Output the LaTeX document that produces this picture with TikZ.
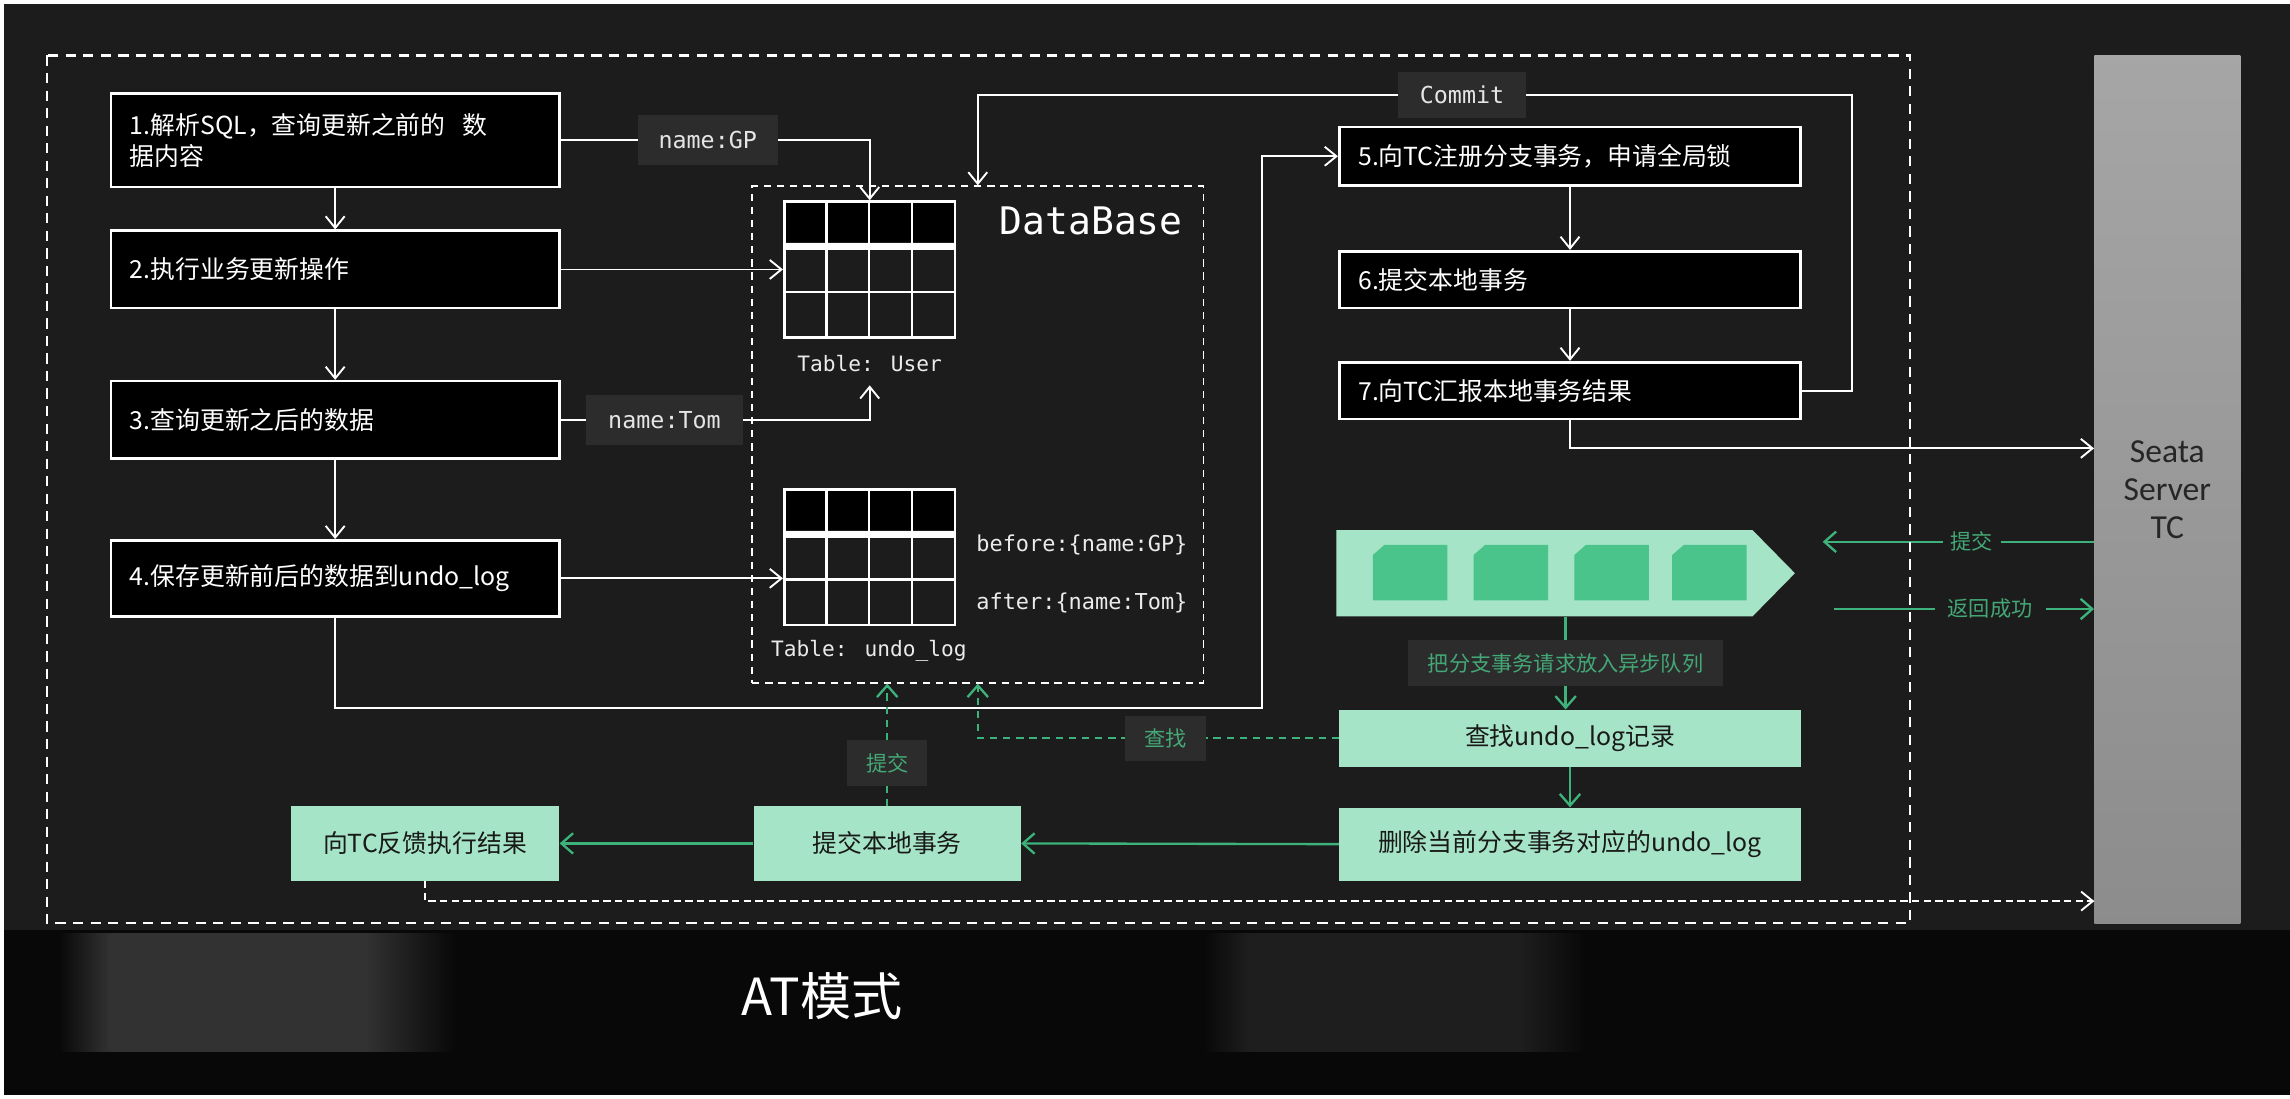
\documentclass[tikz,border=0pt]{standalone}
\usepackage{fontspec}
\setmainfont{Noto Sans CJK SC}
\newfontfamily\monofont{DejaVu Sans Mono}
\newfontfamily\seatafont{Carlito}
\usetikzlibrary{arrows.meta}
\definecolor{bgc}{HTML}{1C1C1C}
\definecolor{mint}{HTML}{A6E4C7}
\definecolor{mintdark}{HTML}{4BC48B}
\definecolor{gline}{HTML}{3DB27A}
\definecolor{gtext}{HTML}{44A876}
\definecolor{lblbg}{HTML}{2C2C2C}
\definecolor{tilegray}{HTML}{323232}
\definecolor{tilefaint}{HTML}{1E1E1E}
\definecolor{bandc}{HTML}{080808}
\begin{document}
\begin{tikzpicture}[x=1pt,y=-1pt,
    stepbox/.style={draw=white,line width=1.8pt,fill=black,text=white,font=\fontsize{17}{21}\selectfont,align=left,inner xsep=13pt,inner ysep=0pt},
    mintbox/.style={fill=mint,text=black!90,font=\fontsize{17}{21}\selectfont,inner sep=0pt},
    lbl/.style={fill=lblbg,text=white!90!black,font=\monofont\fontsize{16}{18}\selectfont,inner sep=0pt,minimum height=34pt},
    tlbl/.style={text=white!92!black,font=\monofont\fontsize{14.5}{17}\selectfont},
    glbl/.style={fill=lblbg,text=gtext,font=\fontsize{14.5}{17}\selectfont,inner sep=0pt,minimum width=55pt,minimum height=31pt},
    arr/.style={draw=white,line width=1.3pt,-{Straight Barb[length=8pt,width=13pt]}},
    garr/.style={draw=gline,line width=1.6pt,-{Straight Barb[length=8pt,width=14pt]}},
    gdash/.style={garr,dash pattern=on 5pt off 4pt},
    cell/.style={draw=white,line width=1.8pt}]
    \useasboundingbox (0,0) rectangle (1568,752);
    % background
    \fill[white] (0,0) rectangle (1568,752);
    \fill[bgc] (2.5,2.5) rectangle (1568,750);
    \fill[bandc] (2.5,637) rectangle (1568,750);
    \foreach \xa/\xb/\xc/\xd/\tc in {40/75/250/312/tilegray,824/855/1040/1086/tilefaint}{
        \shade[left color=bandc,right color=\tc] (\xa,639) rectangle (\xb,720);
        \fill[\tc] (\xb,639) rectangle (\xc,720);
        \shade[left color=\tc,right color=bandc] (\xc,639) rectangle (\xd,720);
    }
    \node[text=white,font=\fontsize{35}{40}\selectfont] (title) at (563,682) {AT模式};

    % left steps
    \node[stepbox,text width=281pt,minimum height=64pt] (b1) at (229.5,96) {1.解析SQL，查询更新之前的\ \ 数\\据内容};
    \node[stepbox,text width=281pt,minimum height=53pt] (b2) at (229.5,184.5) {2.执行业务更新操作};
    \node[stepbox,text width=281pt,minimum height=53pt] (b3) at (229.5,287.5) {3.查询更新之后的数据};
    \node[stepbox,text width=281pt,minimum height=52pt] (b4) at (229.5,396) {4.保存更新前后的数据到undo\_log};
    \foreach \a/\b in {b1/b2,b2/b3,b3/b4}
        \draw[arr] (\a.south) -- (\b.north);

    % database
    \node[draw=white,line width=1.2pt,dash pattern=on 5pt off 4pt,minimum width=309pt,minimum height=340pt,inner sep=0pt] (db) at (669.5,297.5) {};
    \node[anchor=west,text=white,font=\monofont\fontsize{26}{30}\selectfont] (dbname) at (681,151) {DataBase};
    \foreach \y/\n in {138/user,335/undo}{
        \fill[black] (537,\y) rectangle (654,\y+28);
        \draw[white,line width=5pt] (537,\y+31) -- (654,\y+31);
        \foreach \x in {566,595,624.5}
            \draw[cell] (\x,\y) -- (\x,\y+93);
        \draw[cell] (537,\y+62) -- (654,\y+62);
        \node[cell,minimum width=117pt,minimum height=93pt,inner sep=0pt] (t\n) at (595.5,\y+46.5) {};
    }
    \node[tlbl,inner ysep=9pt] (luser) at (595.5,249) {Table: User};
    \node[tlbl] (lundo) at (595,446) {Table: undo\_log};
    \node[tlbl,anchor=west,font=\monofont\fontsize{15}{17}\selectfont] (bef) at (665,373) {before:\{name:GP\}};
    \node[tlbl,anchor=west,font=\monofont\fontsize{15}{17}\selectfont] (aft) at (665,413) {after:\{name:Tom\}};

    \draw[arr] (b1.east) -| node[lbl,pos=0.238,minimum width=96pt] (gp) {name:GP} (tuser.north);
    \draw[arr] (b2.east) -- (b2.east -| tuser.west);
    \draw[arr] (b3.east) -| node[lbl,pos=0.168,minimum width=107pt] (tom) {name:Tom} (luser.south);
    \draw[arr] (b4.east) -- (b4.east -| tundo.west);

    % right steps
    \node[stepbox,text width=290pt,minimum height=40pt] (b5) at (1075,107) {5.向TC注册分支事务，申请全局锁};
    \node[stepbox,text width=290pt,minimum height=39pt] (b6) at (1075,191.5) {6.提交本地事务};
    \node[stepbox,text width=290pt,minimum height=39pt] (b7) at (1075,267.5) {7.向TC汇报本地事务结果};
    \draw[arr] (b5.south) -- (b6.north);
    \draw[arr] (b6.south) -- (b7.north);
    \coordinate (bend) at (864,485);
    \draw[arr] (b4.south) |- (bend) |- (b5.west);
    \coordinate (cbend) at (1268,65);
    \draw[arr] (b7.east) -| (cbend) -| node[lbl,pos=0.223,minimum width=87pt,minimum height=32pt] (commit) {Commit} (db.north);

    % seata server
    \node[top color=gray!70,bottom color=gray!90,minimum width=100pt,minimum height=594pt,inner sep=0pt,align=center,text=black!85,font=\seatafont\fontsize{23}{26}\selectfont] (tc) at (1484,335) {Seata\\Server\\TC};
    \draw[arr] (b7.south) |- ([yshift=28pt]tc.west);

    % async queue
    \fill[mint] (915,363) -- (1200,363) -- (1229,392.5) -- (1200,422) -- (915,422) -- cycle;
    \foreach \x in {940,1009,1078,1145}
        \fill[mintdark] (\x,380) -- (\x+8,373) -- (\x+51,373) -- (\x+51,411) -- (\x,411) -- cycle;
    \node[inner sep=0pt,minimum width=314pt,minimum height=59pt] (queue) at (1072,392.5) {};
    \coordinate (qin) at (1248,371);
    \coordinate (qout) at (1256,417);
    \draw[garr] (tc.west |- qin) -- node[glbl,fill=bgc,pos=0.45,minimum width=40pt] (tjs) {提交} (qin);
    \draw[garr] (qout) -- node[glbl,fill=bgc,pos=0.6,minimum width=76pt] (fhcg) {返回成功} (tc.west |- qout);

    % green steps
    \node[mintbox,minimum width=316pt,minimum height=39pt] (find) at (1075,505.5) {查找undo\_log记录};
    \node[mintbox,minimum width=316pt,minimum height=50pt] (del) at (1075,578) {删除当前分支事务对应的undo\_log};
    \node[mintbox,minimum width=183pt,minimum height=51pt] (lc) at (607.5,577.5) {提交本地事务};
    \node[mintbox,minimum width=184pt,minimum height=51pt] (fk) at (291,577.5) {向TC反馈执行结果};
    \draw[garr] (queue.south) -- node[glbl,minimum width=216pt] (qlbl) {把分支事务请求放入异步队列} (queue.south |- find.north);
    \draw[garr] (find.south) -- (del.north);
    \draw[garr] (del.west) -- (lc.east);
    \draw[garr] (lc.west) -- (fk.east);
    \draw[gdash] (lc.north) -- node[glbl,pos=0.35] (tj) {提交} (lc.north |- db.south);
    \draw[gdash] (find.west) -| node[glbl,pos=0.24] (cz) {查找} (db.south);
    \coordinate (tcin) at (1434,617);
    \draw[arr,dash pattern=on 5pt off 3pt] (fk.south) |- (tcin);

    % frame
    \draw[white,line width=1.6pt,dash pattern=on 7pt off 5pt] (32,38) rectangle (1308,632);
\end{tikzpicture}
\end{document}
